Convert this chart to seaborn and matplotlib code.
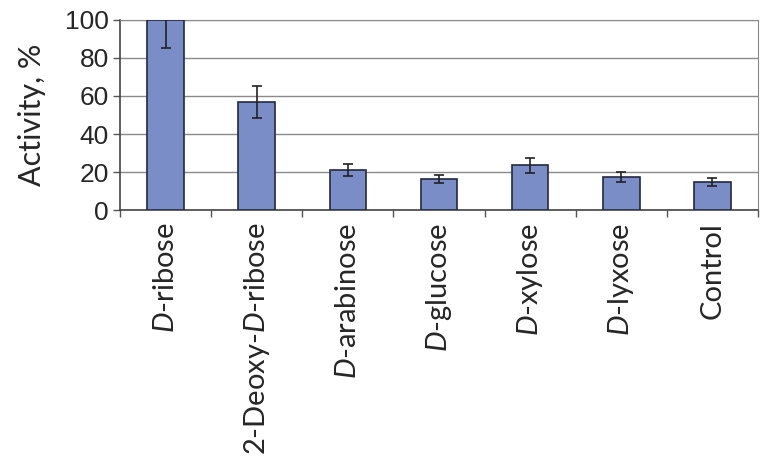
import numpy as np
import matplotlib
matplotlib.use('Agg')
import matplotlib.pyplot as plt
import seaborn as sns

# Data
sugars = [r'$\it{D}$-ribose', r'2-Deoxy-$\it{D}$-ribose', r'$\it{D}$-arabinose',
          r'$\it{D}$-glucose', r'$\it{D}$-xylose', r'$\it{D}$-lyxose', 'Control']
activity = [100, 57, 21, 16.3, 23.5, 17.3, 14.7]
errors = [15, 8.5, 3, 2.3, 3.8, 2.6, 2.2]
y_ticks = [0, 20, 40, 60, 80, 100]

sns.set_style('white')
plt.rcParams['font.family'] = ['Liberation Sans', 'DejaVu Sans']
plt.rcParams['mathtext.fontset'] = 'custom'
plt.rcParams['mathtext.rm'] = 'Lato'
plt.rcParams['mathtext.it'] = 'Lato:italic'

fig = plt.figure(figsize=(7.72, 4.69), dpi=100)
ax = fig.add_axes([0.1554, 0.5522, 0.8265, 0.4052])

sns.barplot(x=list(range(len(sugars))), y=activity, width=0.4, color='#7b8dc6',
            edgecolor='#222a40', linewidth=1.2, saturation=1, ax=ax, zorder=3)
ax.errorbar(range(len(sugars)), activity, yerr=errors, fmt='none',
            ecolor='#222222', elinewidth=1.2, capsize=3.5, capthick=1.2, zorder=4)

ax.set_ylim(0, 100)
ax.set_xlim(-0.5, len(sugars) - 0.5)
ax.set_yticks(y_ticks)
ax.yaxis.grid(True, color='#8a8a8a', linewidth=1)
ax.set_axisbelow(True)
ax.tick_params(axis='y', labelsize=19, length=5, width=1, color='#555555',
               direction='out', left=True, pad=3)

ax.set_xticks(range(len(sugars)))
ax.set_xticklabels(sugars, rotation=90, fontsize=21, fontfamily='Lato', va='top')
ax.tick_params(axis='x', length=0, pad=9)
ax.set_xticks(np.arange(-0.5, len(sugars)), minor=True)
ax.tick_params(axis='x', which='minor', length=5, width=1, color='#555555',
               direction='out', bottom=True)

for side in ['left', 'bottom']:
    ax.spines[side].set_color('#444444')
    ax.spines[side].set_linewidth(1.2)
ax.spines['right'].set_color('#8a8a8a')
ax.spines['top'].set_color('#8a8a8a')

ax.set_ylabel('Activity, %', fontsize=22, fontfamily='Lato', labelpad=14)
ax.set_xlabel('')

fig.savefig('out.png', dpi=100)
